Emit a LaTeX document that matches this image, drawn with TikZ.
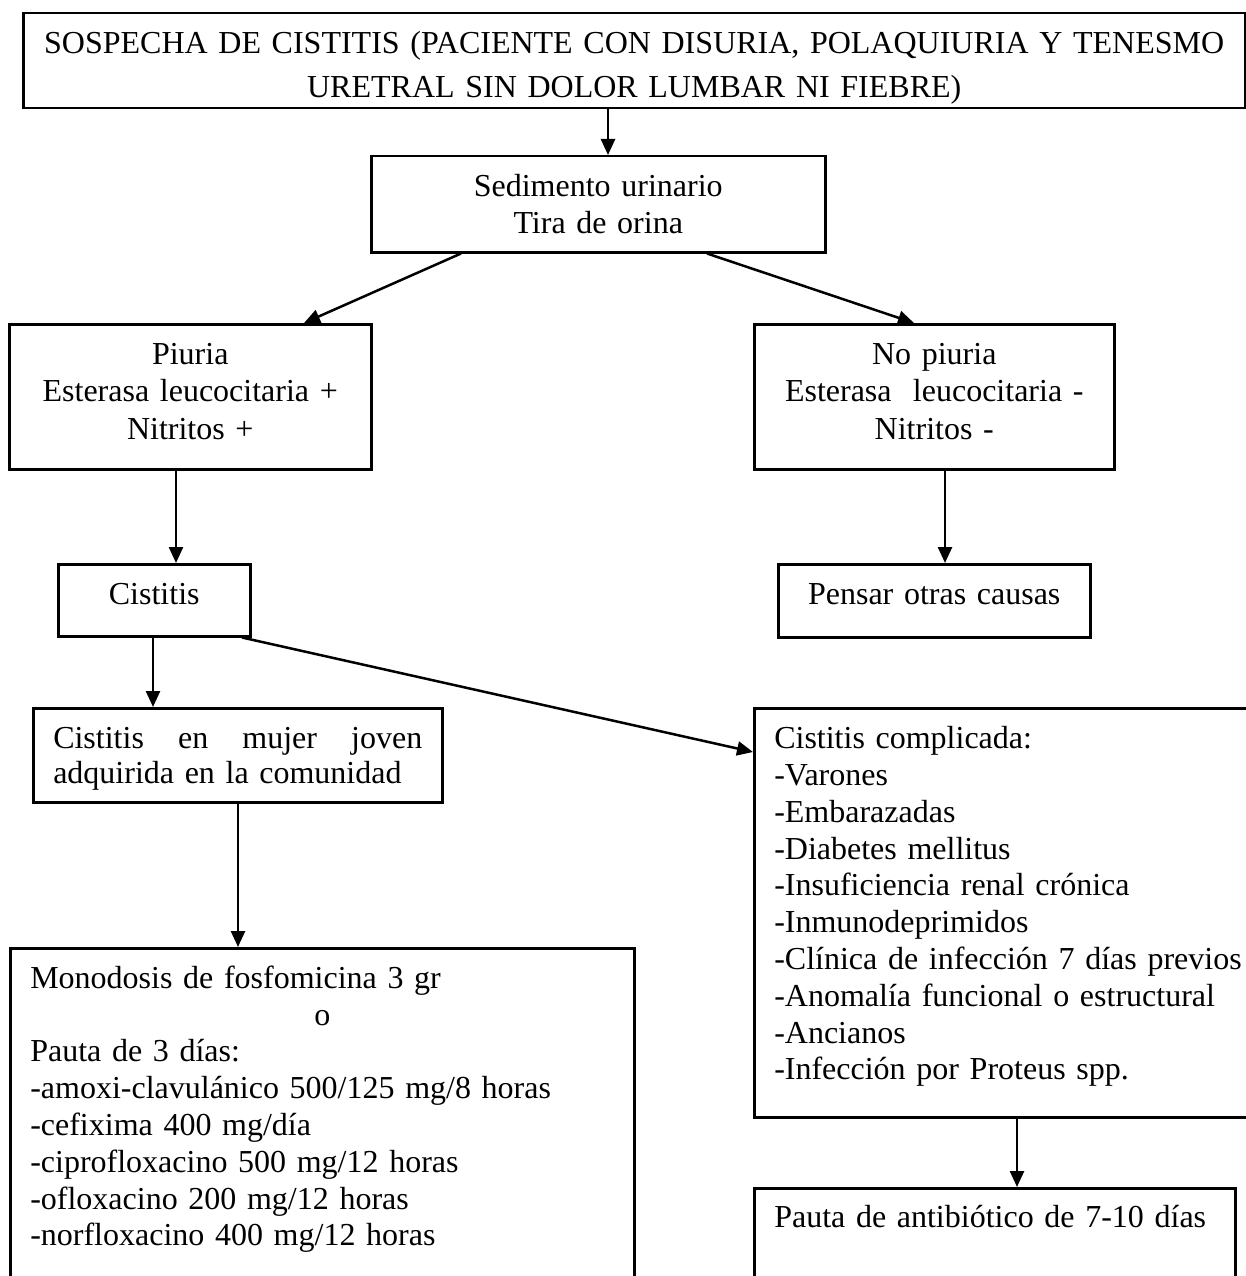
\documentclass[tikz,border=0pt]{standalone}
\usepackage{fontspec}
\setmainfont{Liberation Serif}
\usetikzlibrary{arrows.meta}
\tikzset{
  bx/.style={draw, line width=2.5pt, inner ysep=0pt, inner xsep=0pt, anchor=north west,
    font=\fontsize{32}{36.8}\selectfont},
  arr/.style={line width=2.5pt, -{Triangle[length=16pt,width=14pt]}},
}
\begin{document}
\begin{tikzpicture}[x=1pt,y=-1pt]
\useasboundingbox (0,0) rectangle (1246,1276);
% boxes
\node[bx, text width=1222pt, text height=40pt, text depth=55pt, align=center,
  font=\fontsize{32}{44}\selectfont] (top) at (22,12)
  {SOSPECHA DE CISTITIS (PACIENTE CON DISURIA, POLAQUIURIA Y TENESMO\\URETRAL SIN DOLOR LUMBAR NI FIEBRE)};
\node[bx, text width=454pt, text height=40pt, text depth=56pt, align=center,
  font=\fontsize{32}{37}\selectfont] (sed) at (370,155)
  {Sedimento urinario\\Tira de orina};
\node[bx, text width=362pt, text height=40pt, text depth=105pt, align=center,
  font=\fontsize{32}{37.5}\selectfont] (piu) at (8,323)
  {Piuria\\Esterasa leucocitaria +\\Nitritos +};
\node[bx, text width=360pt, text height=40pt, text depth=105pt, align=center,
  font=\fontsize{32}{37.5}\selectfont] (nop) at (753,323)
  {No piuria\\Esterasa\ \ leucocitaria -\\Nitritos -};
\node[bx, text width=192pt, text height=40pt, text depth=32pt, align=center] (cis) at (57,563)
  {Cistitis};
\node[bx, text width=312pt, text height=40pt, text depth=33pt, align=center] (pen) at (777,563)
  {Pensar otras causas};
\node[bx, inner xsep=20pt, text width=369pt, text height=40pt, text depth=54pt, align=left,
  font=\fontsize{32}{35}\selectfont] (muj) at (32,707)
  {Cistitis\hfill en\hfill mujer\hfill joven\\adquirida en la comunidad};
\node[bx, inner xsep=20pt, text width=584pt, text height=40pt, text depth=320pt, align=left] (mono) at (9,947)
  {Monodosis de fosfomicina 3 gr\\
   \makebox[\linewidth][c]{o}\\
   Pauta de 3 días:\\
   -amoxi-clavulánico 500/125 mg/8 horas\\
   -cefixima 400 mg/día\\
   -ciprofloxacino 500 mg/12 horas\\
   -ofloxacino 200 mg/12 horas\\
   -norfloxacino 400 mg/12 horas};
\node[bx, inner xsep=20pt, text width=480pt, text height=40.4pt, text depth=368.6pt, align=left] (comp) at (753,707)
  {Cistitis complicada:\\
   -Varones\\
   -Embarazadas\\
   -Diabetes mellitus\\
   -Insuficiencia renal crónica\\
   -Inmunodeprimidos\\
   -Clínica de infección 7 días previos\\
   -Anomalía funcional o estructural\\
   -Ancianos\\
   -Infección por Proteus spp.};
\node[bx, inner xsep=20pt, text width=441pt, text height=39pt, text depth=81pt, align=left] (pau) at (753,1187)
  {Pauta de antibiótico de 7-10 días};
% connectors
\draw[arr] (top.south -| 608,0) -- (sed.north -| 608,0);
\draw[arr] (sed.south -| 461,0) -- (piu.north -| 304,0);
\draw[arr] (sed.south -| 707,0) -- (nop.north -| 914,0);
\draw[arr] (piu.south -| 176,0) -- (cis.north -| 176,0);
\draw[arr] (nop.south -| 945,0) -- (pen.north -| 945,0);
\draw[arr] (cis.south -| 153,0) -- (muj.north -| 153,0);
\draw[arr] (cis.south -| 242,0) -- (comp.west |- 0,752);
\draw[arr] (muj.south -| 238,0) -- (mono.north -| 238,0);
\draw[arr] (comp.south -| 1017,0) -- (pau.north -| 1017,0);
\end{tikzpicture}
\end{document}
